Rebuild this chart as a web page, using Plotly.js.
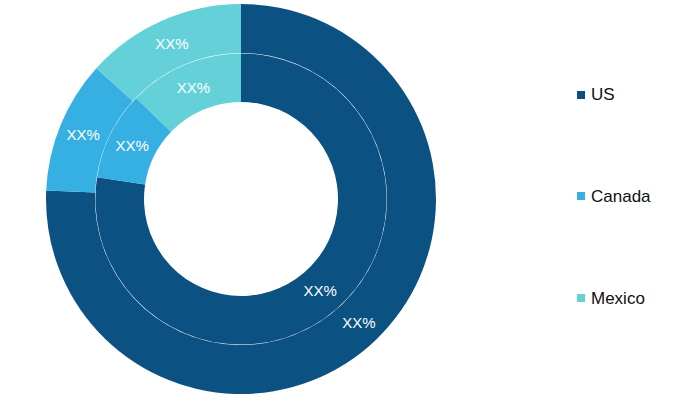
<!DOCTYPE html>
<html>
<head>
<meta charset="utf-8">
<script src="https://cdn.plot.ly/plotly-3.0.1.min.js"></script>
<style>html,body{margin:0;padding:0;background:#fff;}#chart{width:678px;height:402px;}</style>
</head>
<body>
<div id="chart"></div>
<script>
const categories = ["US", "Canada", "Mexico"];
const outerValues = [75.7, 11.0, 13.3];
const innerValues = [77.4, 9.8, 12.8];
const sliceLabel = "XX%";
const colors = ["#0b5282", "#36b0e2", "#64d1d9"];

const W = 678, H = 402;
const cx = 241, cy = 199;
function domainFor(r) {
  return {
    x: [(cx - r) / W, (cx + r) / W],
    y: [(H - cy - r) / H, (H - cy + r) / H]
  };
}

function ring(values, r, hole) {
  return {
    type: "pie",
    labels: categories,
    values: values,
    sort: false,
    direction: "clockwise",
    rotation: 0,
    hole: hole,
    domain: domainFor(r),
    marker: { colors: colors, line: { width: 0 } },
    texttemplate: sliceLabel,
    textposition: "inside",
    insidetextorientation: "horizontal",
    textfont: { family: "Liberation Sans", size: 15, color: "#ffffff" },
    showlegend: false,
    hoverinfo: "label+value"
  };
}

const data = [
  ring(outerValues, 195, 146 / 195),
  ring(innerValues, 145.6, 97 / 145.6)
];

const legendY = [95, 196, 298];
const shapes = categories.map((c, i) => ({
  type: "rect", xref: "paper", yref: "paper",
  x0: 577 / W, x1: 585 / W,
  y0: 1 - (legendY[i] + 4) / H, y1: 1 - (legendY[i] - 4) / H,
  fillcolor: colors[i], line: { width: 0 }
}));
const annotations = categories.map((c, i) => ({
  text: c, xref: "paper", yref: "paper",
  x: 589 / W, y: 1 - legendY[i] / H,
  xanchor: "left", yanchor: "middle", showarrow: false,
  font: { family: "Liberation Sans", size: 17, color: "#111111" }
}));

const layout = {
  width: W, height: H,
  margin: { l: 0, r: 0, t: 0, b: 0 },
  paper_bgcolor: "#ffffff",
  showlegend: false,
  uniformtext: { minsize: 15, mode: "show" },
  shapes: shapes,
  annotations: annotations
};

Plotly.newPlot("chart", data, layout, { displayModeBar: false, staticPlot: true });
</script>
</body>
</html>
